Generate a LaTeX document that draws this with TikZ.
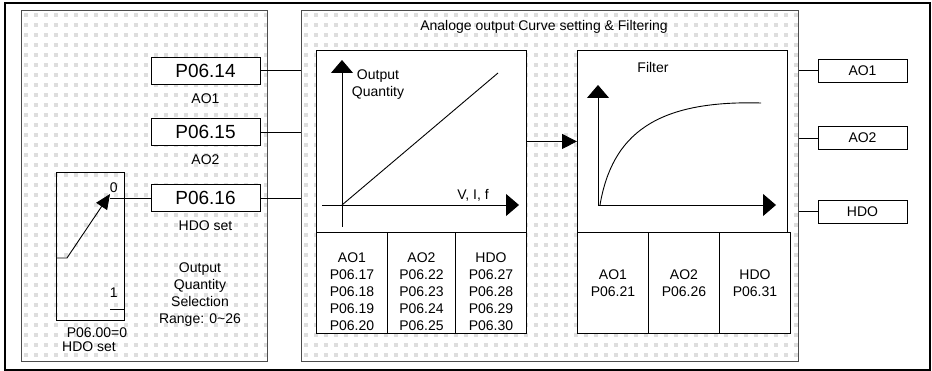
\documentclass[tikz,border=0pt]{standalone}
\usepackage{fontspec}
\setmainfont{Liberation Sans}
\usetikzlibrary{arrows.meta,positioning}

\begin{document}
\begin{tikzpicture}[x=1pt, y=-1pt, line width=0.9pt, font=\fontsize{14}{17}\selectfont, >={Triangle[length=13pt,width=22pt]}]
  \tikzstyle{panel}=[draw=black!70, line width=1.3pt, anchor=north west, inner sep=0pt]
  \tikzstyle{block}=[rectangle, draw, fill=white, inner sep=0pt]
  \tikzstyle{pbox}=[block, minimum width=109pt, minimum height=27pt, font=\fontsize{19}{22}\selectfont]
  \tikzstyle{outbox}=[block, minimum width=89pt, minimum height=23pt]
  \tikzstyle{graph}=[block, anchor=north west, minimum width=210pt, minimum height=182pt]
  \tikzstyle{cell}=[block, anchor=north west, minimum height=101pt, align=center]
  \tikzstyle{lbl}=[inner sep=0pt, align=center]
  \tikzstyle{dots}=[fill=black!13]

  \useasboundingbox (0,0) rectangle (932,371);
  \draw[line width=2pt] (5,3) rectangle (930,370);

  % dotted background of the two panels
  \begin{scope}
    \clip (21,10) rectangle (267,361) (301,10) rectangle (798,361);
    \foreach \i in {0,...,77} \foreach \j in {0,...,35}
      \fill[dots] (24+\i*10, 13+\j*10) rectangle +(4,4);
  \end{scope}
  \node[panel, minimum width=246pt, minimum height=351pt] (sel) at (21,10) {};
  \node[panel, minimum width=497pt, minimum height=351pt] (curve) at (301,10) {};
  \node[lbl] (title) at (544,27) {Analoge output Curve setting \& Filtering};

  % output quantity selection
  \node[pbox] (p14) at (205.5,70.5) {P06.14};
  \node[lbl, below=8.5pt of p14] (p14lbl) {AO1};
  \node[pbox] (p15) at (205.5,132) {P06.15};
  \node[lbl, below=8.5pt of p15] (p15lbl) {AO2};
  \node[pbox] (p16) at (205.5,198) {P06.16};
  \node[lbl, below=8.5pt of p16] (p16lbl) {HDO set};
  \node[lbl] (range) at (200,295) {Output\\Quantity\\Selection\\Range: 0\textasciitilde26};

  % HDO switch
  \node[block, fill=none, anchor=north west, minimum width=68pt, minimum height=148pt] (sw) at (56,172) {};
  \node[lbl, anchor=east] (sw0) at (118,188) {0};
  \node[lbl, anchor=east] (sw1) at (118,293) {1};
  \coordinate (c0) at (110,198);
  \coordinate (c1) at (110,309);
  \coordinate (swin) at (56,258);
  \coordinate (swtip) at (110,194);
  \draw (c0) -- (p16.west);
  \draw (c1) -- (c1 -| sw.east);
  \draw[-{Triangle[length=15pt,width=13pt]}] (swin) -- ++(11,0) -- (swtip);
  \node[lbl] (swpar) at (97,333) {P06.00=0};
  \node[lbl] (swset) at (89,347) {HDO set};

  % curve setting
  \node[graph] (cgraph) at (316,50) {};
  \coordinate (corig) at (342,205);
  \coordinate (cytop) at (342,60);
  \coordinate (cybot) at (342,227);
  \coordinate (cxl) at (322,205);
  \coordinate (cxr) at (519,205);
  \coordinate (cend) at (498,73);
  \draw[->] (cybot) -- (cytop);
  \draw[->] (cxl) -- (cxr);
  \draw (corig) -- (cend);
  \node[lbl, anchor=north] (cylbl) at (378,69.5) {Output\\Quantity};
  \node[lbl, anchor=base] (cxlbl) at (473,200) {V, I, f};
  \node[cell, minimum width=71pt] (ct1) at (316,232) {};
  \node[cell, minimum width=68pt] (ct2) at (387,232) {};
  \node[cell, minimum width=71pt] (ct3) at (455,232) {};
  \node[lbl, below=20pt of ct1.north] (ct1txt) {AO1\\P06.17\\P06.18\\P06.19\\P06.20};
  \node[lbl, below=20pt of ct2.north] (ct2txt) {AO2\\P06.22\\P06.23\\P06.24\\P06.25};
  \node[lbl, below=20pt of ct3.north] (ct3txt) {HDO\\P06.27\\P06.28\\P06.29\\P06.30};

  % filtering
  \node[graph] (fgraph) at (577,50) {};
  \node[lbl] (ftitle) at (653,67) {Filter};
  \coordinate (forig) at (598,205);
  \coordinate (fytop) at (598,85);
  \coordinate (fxr) at (776,205);
  \coordinate (fstart) at (600,205);
  \coordinate (fend) at (761,103);
  \draw[->] (forig) -- (fytop);
  \draw[->] (forig) -- (fxr);
  \draw (fstart) .. controls (612,135) and (655,100) .. (fend);
  \node[cell, minimum width=71pt] (ft1) at (577,232) {AO1\\P06.21};
  \node[cell, minimum width=71pt] (ft2) at (648,232) {AO2\\P06.26};
  \node[cell, minimum width=71pt] (ft3) at (719,232) {HDO\\P06.31};
  \draw[-{Triangle[length=15pt,width=15pt]}] (cgraph.east) -- (fgraph.west);

  % outputs
  \node[outbox] (ao1) at (862.5,70.5) {AO1};
  \node[outbox] (ao2) at (862.5,138) {AO2};
  \node[outbox] (hdo) at (862.5,211.5) {HDO};
  \draw (p14.east) -- (p14.east -| curve.west);
  \draw (p15.east) -- (p15.east -| curve.west);
  \draw (p16.east) -- (p16.east -| curve.west);
  \draw (ao1.west) -- (ao1.west -| curve.east);
  \draw (ao2.west) -- (ao2.west -| curve.east);
  \draw (hdo.west) -- (hdo.west -| curve.east);
\end{tikzpicture}
\end{document}
